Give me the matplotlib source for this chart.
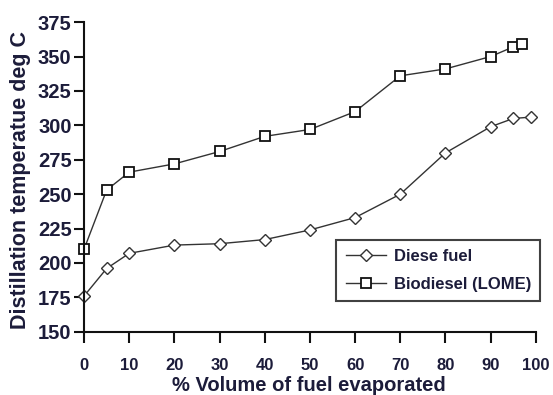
import matplotlib.pyplot as plt

plt.rcParams["font.family"] = ["Liberation Sans", "DejaVu Sans"]
plt.rcParams["font.weight"] = "bold"

diesel_x = [0, 5, 10, 20, 30, 40, 50, 60, 70, 80, 90, 95, 99]
diesel_y = [176, 196, 207, 213, 214, 217, 224, 233, 250, 280, 299, 305, 306]

bio_x = [0, 5, 10, 20, 30, 40, 50, 60, 70, 80, 90, 95, 97]
bio_y = [210, 253, 266, 272, 281, 292, 297, 310, 336, 341, 350, 357, 359]

x_ticks = [0, 10, 20, 30, 40, 50, 60, 70, 80, 90, 100]
y_ticks = [150, 175, 200, 225, 250, 275, 300, 325, 350, 375]

text_color = "#1c1c3a"

fig = plt.figure(figsize=(5.53, 3.95), dpi=100)
ax = fig.add_axes([0.152, 0.16, 0.817, 0.784])

ax.plot(diesel_x, diesel_y, color="#333333", lw=1.0, marker="D", ms=6,
        mfc="white", mec="#333333", mew=1.0, label="Diese fuel", clip_on=False)
ax.plot(bio_x, bio_y, color="#333333", lw=1.0, marker="s", ms=7,
        mfc="white", mec="#111111", mew=1.3, label="Biodiesel (LOME)", clip_on=False)

ax.set_xlim(0, 100)
ax.set_ylim(150, 375)
ax.set_xticks(x_ticks)
ax.set_yticks(y_ticks)

for side in ["top", "right"]:
    ax.spines[side].set_visible(False)
for side in ["left", "bottom"]:
    ax.spines[side].set_linewidth(1.5)
    ax.spines[side].set_color("#111111")

ax.tick_params(axis="both", direction="out", width=1.5,
               colors="#111111", labelcolor=text_color)
ax.tick_params(axis="x", length=8, pad=11, labelsize=12)
ax.tick_params(axis="y", length=7, pad=2, labelsize=14.5)
for lbl in ax.get_xticklabels() + ax.get_yticklabels():
    lbl.set_fontweight("bold")

ax.set_xlabel("% Volume of fuel evaporated", fontsize=14.5, fontweight="bold",
              color=text_color)
ax.xaxis.set_label_coords(0.498, -0.142)
ax.set_ylabel("Distillation temperatue deg C", fontsize=15.5, fontweight="bold",
              color=text_color)
ax.yaxis.set_label_coords(-0.118, 0.49)

leg = ax.legend(loc="lower right", bbox_to_anchor=(1.01, 0.10),
                frameon=True, fancybox=False, edgecolor="#111111",
                handlelength=2.4, handletextpad=0.5, borderpad=0.55,
                labelspacing=0.75, borderaxespad=0,
                prop={"weight": "bold", "size": 12})
leg.get_frame().set_linewidth(1.5)
for t in leg.get_texts():
    t.set_color(text_color)

fig.savefig("out.png", dpi=100)
